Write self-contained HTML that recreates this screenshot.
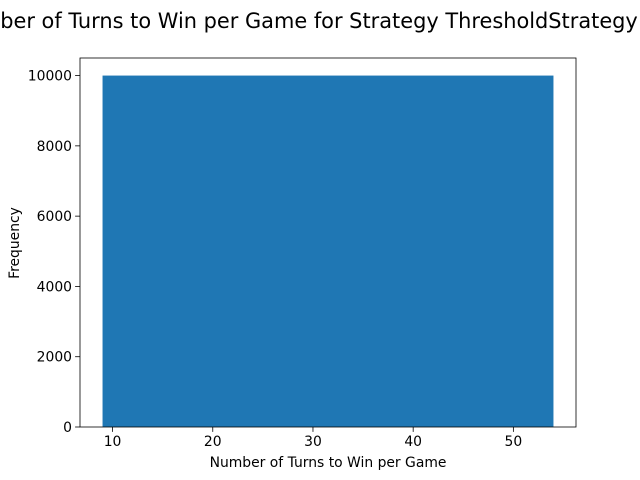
<!DOCTYPE html>
<html><head><meta charset="utf-8"><style>
html,body{margin:0;padding:0;background:#fff;width:640px;height:480px;overflow:hidden}
svg text{font-family:"DejaVu Sans","Liberation Sans",sans-serif;fill:#000}
</style></head><body>
<svg width="640" height="480" xmlns="http://www.w3.org/2000/svg">
<text x="-49" y="28" text-anchor="start" font-size="20.9">Number of Turns to Win per Game for Strategy ThresholdStrategy</text>
<g id="bars"></g>
<rect x="80" y="58" width="496" height="369" fill="none" stroke="#000" stroke-width="0.8"/>
<g id="xticks"></g>
<g id="yticks"></g>
<text x="328" y="467" text-anchor="middle" font-size="13.9">Number of Turns to Win per Game</text>
<text transform="translate(19,243) rotate(-90)" text-anchor="middle" font-size="13.9">Frequency</text>
</svg>
<script>
const binEdges = [9, 54];
const counts = [10000];
const xTickLabels = [10, 20, 30, 40, 50];
const yTickLabels = [0, 2000, 4000, 6000, 8000, 10000];

const L=80,R=576,T=58,B=427;
const xmin=6.75,xmax=56.25,ymin=0,ymax=10500;
const xs=v=>L+(v-xmin)/(xmax-xmin)*(R-L);
const ys=v=>B-(v-ymin)/(ymax-ymin)*(B-T);
const NS="http://www.w3.org/2000/svg";
const bars=document.getElementById('bars');
counts.forEach((c,i)=>{
  const r=document.createElementNS(NS,'rect');
  r.setAttribute('x',xs(binEdges[i]));
  r.setAttribute('width',xs(binEdges[i+1])-xs(binEdges[i]));
  r.setAttribute('y',ys(c));
  r.setAttribute('height',ys(0)-ys(c));
  r.setAttribute('fill','#1f77b4');
  
  
  bars.appendChild(r);
});
const xg=document.getElementById('xticks');
xTickLabels.forEach(v=>{
  const x=xs(v);
  const l=document.createElementNS(NS,'line');
  l.setAttribute('x1',x);l.setAttribute('x2',x);l.setAttribute('y1',B);l.setAttribute('y2',B+4.9);
  l.setAttribute('stroke','#000');l.setAttribute('stroke-width','0.8');
  
  
  xg.appendChild(l);
  const t=document.createElementNS(NS,'text');
  t.setAttribute('x',x);t.setAttribute('y',B+19);t.setAttribute('text-anchor','middle');t.setAttribute('font-size','13.9');
  t.textContent=v;
  
  
  xg.appendChild(t);
});
const yg=document.getElementById('yticks');
yTickLabels.forEach(v=>{
  const y=ys(v);
  const l=document.createElementNS(NS,'line');
  l.setAttribute('x1',L-4.9);l.setAttribute('x2',L);l.setAttribute('y1',y);l.setAttribute('y2',y);
  l.setAttribute('stroke','#000');l.setAttribute('stroke-width','0.8');
  
  
  yg.appendChild(l);
  const t=document.createElementNS(NS,'text');
  t.setAttribute('x',L-8);t.setAttribute('y',y+5);t.setAttribute('text-anchor','end');t.setAttribute('font-size','13.9');
  t.textContent=v;
  
  
  yg.appendChild(t);
});
</script>
</body></html>
